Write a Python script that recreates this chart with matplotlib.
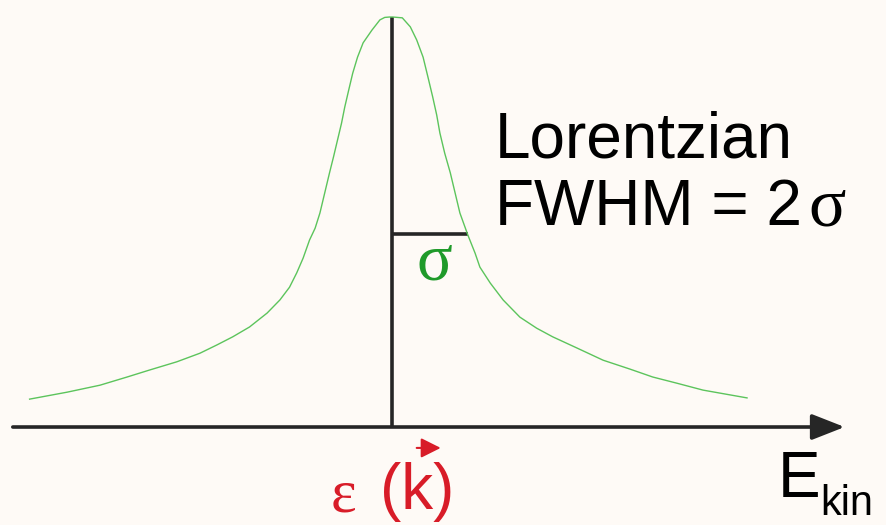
import matplotlib
matplotlib.use("Agg")
import matplotlib.pyplot as plt

# ---------------------------
# Spectrum samples
# energy relative to eps(k), intensity normalised to the peak
# ---------------------------
energy = [-4.53, -4.06, -3.65, -3.31, -3.03, -2.69, -2.40, -2.19, -1.99,
          -1.78, -1.56, -1.40, -1.28, -1.19, -1.11, -1.03, -0.96, -0.90,
          -0.84, -0.78, -0.73, -0.68, -0.63, -0.59, -0.54, -0.49, -0.43,
          -0.36, -0.25, -0.15, -0.09, -0.03,
          0.01, 0.13, 0.23, 0.31, 0.39, 0.45, 0.51, 0.56, 0.60, 0.66,
          0.73, 0.79, 0.85, 0.95, 1.04, 1.10, 1.23, 1.39, 1.60, 1.81,
          2.01, 2.31, 2.64, 2.98, 3.26, 3.56, 3.89, 4.44]
intensity = [0.068, 0.085, 0.102, 0.122, 0.139, 0.159, 0.180, 0.200, 0.220,
             0.244, 0.278, 0.310, 0.341, 0.376, 0.412, 0.456, 0.485, 0.522,
             0.571, 0.620, 0.659, 0.700, 0.741, 0.780, 0.822, 0.863, 0.902,
             0.937, 0.968, 0.993, 0.999, 1.000,
             1.000, 0.998, 0.976, 0.944, 0.902, 0.854, 0.805, 0.761, 0.717,
             0.668, 0.620, 0.571, 0.522, 0.468, 0.424, 0.390, 0.351, 0.310,
             0.268, 0.241, 0.220, 0.193, 0.163, 0.141, 0.122, 0.107, 0.090,
             0.071]

peak_energy = 0.0      # eps(k)
peak_height = 1.0
half_level = 0.47      # height of the sigma bar
sigma = 0.95           # half width at half maximum
axis_range = (-4.74, 5.66)

# ---------------------------
# Colours / fonts
# ---------------------------
bg = "#fefaf6"
curve_col = "#5cc45c"
sigma_col = "#1f9a2a"
eps_col = "#d81c28"
ink = "#262626"
sans = "Liberation Sans"
serif = "Liberation Serif"

fig = plt.figure(figsize=(8.87, 5.25), dpi=100, facecolor=bg)
ax = fig.add_axes([0, 0, 1, 1])
ax.set_facecolor(bg)
ax.set_xlim(-4.9, 6.19)
ax.set_ylim(-0.239, 1.0415)
ax.axis("off")

# energy axis with arrow head
ax.annotate("", xy=(axis_range[1], 0), xytext=(axis_range[0], 0),
            arrowprops=dict(arrowstyle="-|>,head_length=0.56,head_width=0.22",
                            mutation_scale=36, lw=2.6, color=ink,
                            shrinkA=0, shrinkB=0))

# peak position and sigma bar
ax.plot([peak_energy, peak_energy], [0, peak_height], color=ink, lw=2.6,
        solid_capstyle="butt")
ax.plot([peak_energy, peak_energy + sigma], [half_level, half_level],
        color=ink, lw=2.6, solid_capstyle="butt")

# lorentzian line shape
ax.plot(energy, intensity, color=curve_col, lw=1.0, solid_joinstyle="round")

ax.text(peak_energy + sigma / 2 + 0.06, 0.36, "σ", color=sigma_col,
        family=serif, fontsize=48, ha="center", va="baseline")

# labels
fig.text(495 / 887, 1 - 158 / 525, "Lorentzian", family=sans, fontsize=46,
         color="black", va="baseline")
fig.text(495 / 887, 1 - 225 / 525, "FWHM = 2", family=sans, fontsize=46,
         color="black", va="baseline")
fig.text(808 / 887, 1 - 225 / 525, "σ", family=serif, fontsize=50,
         color="black", va="baseline")

fig.text(778 / 887, 1 - 497 / 525, "E", family=sans, fontsize=46,
         color="black", va="baseline")
fig.text(820 / 887, 1 - 515 / 525, "kin", family=sans, fontsize=30,
         color="black", va="baseline")

# eps(k) under the peak, vector arrow over k
fig.text(331 / 887, 1 - 511 / 525, "ε", family=serif, fontsize=44,
         color=eps_col, va="baseline")
fig.text(380 / 887, 1 - 509 / 525, "(k)", family=sans, fontsize=46,
         color=eps_col, va="baseline")
ax.annotate("", xy=(0.61, -0.051), xytext=(0.31, -0.051),
            arrowprops=dict(arrowstyle="-|>,head_length=0.6,head_width=0.3",
                            mutation_scale=20, lw=1.5, color=eps_col,
                            shrinkA=0, shrinkB=0))

fig.savefig("out.png", dpi=100, facecolor=bg)
